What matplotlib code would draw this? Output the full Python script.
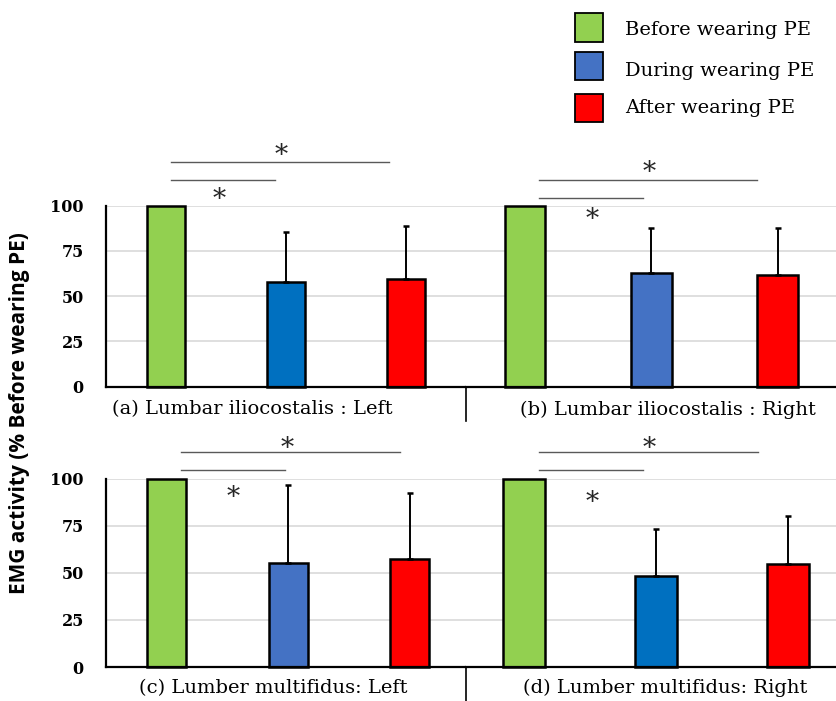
import numpy as np
import matplotlib
matplotlib.use("Agg")
import matplotlib.pyplot as plt
from matplotlib.patches import Rectangle
from matplotlib.lines import Line2D

# data
conditions = ["Before wearing PE", "During wearing PE", "After wearing PE"]
panel_titles = ["(a) Lumbar iliocostalis : Left", "(b) Lumbar iliocostalis : Right",
                "(c) Lumber multifidus: Left", "(d) Lumber multifidus: Right"]
means_a = [100, 58.0, 59.5]
means_b = [100, 62.7, 61.7]
means_c = [100, 55.4, 57.4]
means_d = [100, 48.5, 54.5]
sd_a = [0, 27.3, 29.5]
sd_b = [0, 25.1, 25.8]
sd_c = [0, 41.1, 35.2]
sd_d = [0, 24.6, 25.9]
yticks = [0, 25, 50, 75, 100]

# styles / layout
green = "#92D050"
red = "#FF0000"
blue_dark = "#0070C0"
blue_light = "#4472C4"
panel_colors = [[green, blue_dark, red], [green, blue_light, red],
                [green, blue_light, red], [green, blue_dark, red]]

W, H = 837, 701
fig = plt.figure(figsize=(W / 100, H / 100), dpi=100)

serif = "DejaVu Serif"

def fx(px):
    return px / W

def fy(py):
    return 1 - py / H

# axes boxes in pixels: left, right, bottom(y=0), top(y=100)
boxes = [(106, 465.7, 386.7, 205.7), (465.7, 837, 386.7, 205.7),
         (106, 465.7, 667, 478.7), (465.7, 837, 667, 478.7)]
xlims = [(-0.5, 2.5), (-0.47, 2.47), (-0.5, 2.46), (-0.44, 2.37)]
title_pos = [(252, 409), (668, 410), (273, 688), (665, 688)]

# significance annotations: (x0, x1, y) lines, (x, y) stars in data units
sig_lines = [
    [(0.04, 1.86, 124.3), (0.04, 0.91, 114.4)],
    [(0.11, 1.84, 114.4), (0.11, 0.93, 104.4)],
    [(0.12, 1.92, 114.0), (0.12, 0.97, 104.5)],
    [(0.115, 1.77, 114.0), (0.115, 0.90, 104.5)],
]
sig_stars = [
    [(0.96, 127.6), (0.44, 103.3)],
    [(0.98, 118.2), (0.53, 92.4)],
    [(0.99, 116.0), (0.55, 89.9)],
    [(0.95, 116.0), (0.52, 87.2)],
]

all_means = [means_a, means_b, means_c, means_d]
all_sd = [sd_a, sd_b, sd_c, sd_d]
x = np.arange(len(conditions))

for i in range(4):
    l, r, b, t = boxes[i]
    ax = fig.add_axes([fx(l), fy(b), (r - l) / W, (b - t) / H])
    ax.set_xlim(*xlims[i])
    ax.set_ylim(0, 100)
    ax.bar(x, all_means[i], width=0.32, color=panel_colors[i],
           edgecolor="black", linewidth=1.8, zorder=3, clip_on=False)
    for j in range(len(x)):
        if all_sd[i][j] > 0:
            ax.errorbar(x[j], all_means[i][j], yerr=[[0], [all_sd[i][j]]],
                        fmt="none", ecolor="black", elinewidth=1.4,
                        capsize=2.5, capthick=1.8, zorder=4)
    ax.set_yticks(yticks)
    ax.yaxis.grid(True, color="#D9D9D9", linewidth=1.2, zorder=0)
    ax.set_xticks([])
    for s in ["top", "right"]:
        ax.spines[s].set_visible(False)
    ax.spines["bottom"].set_linewidth(1.6)
    ax.spines["bottom"].set_zorder(5)
    if i % 2 == 0:
        ax.spines["left"].set_linewidth(1.6)
        ax.tick_params(axis="y", length=0, pad=16)
        for lab in ax.get_yticklabels():
            lab.set_fontfamily(serif)
            lab.set_fontweight("bold")
            lab.set_fontsize(11.5)
    else:
        ax.spines["left"].set_visible(False)
        ax.tick_params(axis="y", length=0, labelleft=False)

    for (x0, x1, yy) in sig_lines[i]:
        ax.plot([x0, x1], [yy, yy], color="#595959", linewidth=1.0, clip_on=False)
    for (sx, sy) in sig_stars[i]:
        ax.text(sx, sy, "*", ha="center", va="center", fontsize=19,
                family=serif, color="#262626", clip_on=False)

    tx, ty = title_pos[i]
    fig.text(fx(tx), fy(ty), panel_titles[i], ha="center", va="center",
             fontsize=14, family=serif, color="black")

# dividers between panels
for (y0, y1) in [(386.7, 421), (667, 701)]:
    fig.add_artist(Line2D([fx(465.7), fx(465.7)], [fy(y0), fy(y1)],
                          color="black", linewidth=1.2))

# y label
fig.text(fx(20), fy(413), "EMG activity (% Before wearing PE)", rotation=90,
         ha="center", va="center", fontsize=15, fontweight="bold",
         family="Open Sans")

# legend
box_y = [27.5, 66, 108]
text_y = [30, 71, 108]
for k in range(3):
    fig.add_artist(Rectangle((fx(575), fy(box_y[k] + 14)), 28 / W, 28 / H,
                             transform=fig.transFigure, facecolor=[green, blue_light, red][k],
                             edgecolor="black", linewidth=1.3))
    fig.text(fx(625), fy(text_y[k]), conditions[k], ha="left", va="center",
             fontsize=14, family=serif)

fig.savefig("out.png", dpi=100)
